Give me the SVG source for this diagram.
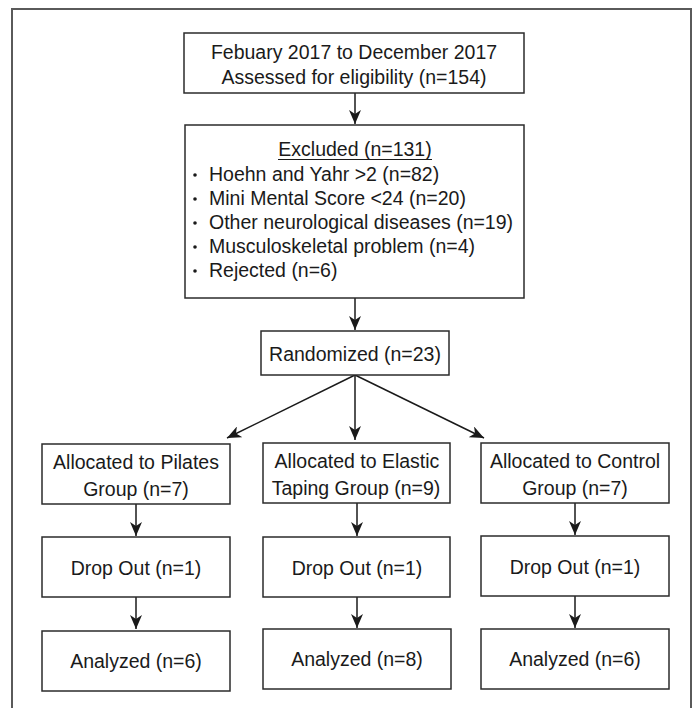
<svg xmlns="http://www.w3.org/2000/svg" width="696" height="708" viewBox="0 0 696 708">
<style>
.box{fill:#fff;stroke:#2b2b2b;stroke-width:1.5}
.t{font-family:"Liberation Sans",Arial,sans-serif;font-size:19.5px;fill:#1a1a1a}
.c{text-anchor:middle}
.edge{stroke:#1a1a1a;stroke-width:1.5;fill:none;marker-end:url(#ah)}
.frame{fill:none;stroke:#5a5a5a;stroke-width:2}
</style>
<defs>
<marker id="ah" viewBox="0 0 14 12" refX="14" refY="6" markerWidth="14" markerHeight="12" markerUnits="userSpaceOnUse" orient="auto">
<path d="M0,0 L14,6 L0,12 L4,6 Z" fill="#1a1a1a"/>
</marker>
</defs>
<rect x="0" y="0" width="696" height="708" fill="#fff"/>
<path class="frame" d="M12,712 V9 H691 V712"/>

<g id="connectors">
<line class="edge" x1="355" y1="93" x2="355" y2="124"/>
<line class="edge" x1="355" y1="298" x2="355" y2="330"/>
<line class="edge" x1="355" y1="375" x2="227" y2="438"/>
<line class="edge" x1="355" y1="375" x2="355" y2="440"/>
<line class="edge" x1="355" y1="375" x2="484" y2="438"/>
<line class="edge" x1="136" y1="504" x2="136" y2="536"/>
<line class="edge" x1="357" y1="503" x2="357" y2="536"/>
<line class="edge" x1="575" y1="503" x2="575" y2="535"/>
<line class="edge" x1="136" y1="597" x2="136" y2="629"/>
<line class="edge" x1="357" y1="597" x2="357" y2="628"/>
<line class="edge" x1="575" y1="596" x2="575" y2="628"/>
</g>

<g id="assessed">
<rect class="box" x="184" y="33" width="340" height="60"/>
<text class="t c" x="354" y="59">Febuary 2017 to December 2017</text>
<text class="t c" x="354" y="84">Assessed for eligibility (n=154)</text>
</g>

<g id="excluded">
<rect class="box" x="185" y="125" width="339" height="173"/>
<text class="t c" x="355" y="156">Excluded (n=131)</text>
<line x1="278" y1="159.5" x2="432" y2="159.5" stroke="#1a1a1a" stroke-width="1.2"/>
<g fill="#1a1a1a">
<circle cx="195" cy="175" r="1.8"/>
<circle cx="195" cy="199" r="1.8"/>
<circle cx="195" cy="223" r="1.8"/>
<circle cx="195" cy="247" r="1.8"/>
<circle cx="195" cy="271" r="1.8"/>
</g>
<text class="t" x="209" y="181">Hoehn and Yahr &gt;2 (n=82)</text>
<text class="t" x="209" y="205">Mini Mental Score &lt;24 (n=20)</text>
<text class="t" x="209" y="229">Other neurological diseases (n=19)</text>
<text class="t" x="209" y="253">Musculoskeletal problem (n=4)</text>
<text class="t" x="209" y="277">Rejected (n=6)</text>
</g>

<g id="randomized">
<rect class="box" x="261" y="331" width="188" height="44"/>
<text class="t c" x="355" y="361">Randomized (n=23)</text>
</g>

<g id="alloc-pilates">
<rect class="box" x="42" y="444" width="188" height="60"/>
<text class="t c" x="136" y="469">Allocated to Pilates</text>
<text class="t c" x="136" y="496">Group (n=7)</text>
</g>
<g id="alloc-taping">
<rect class="box" x="263" y="443" width="187" height="60"/>
<text class="t c" x="357" y="468">Allocated to Elastic</text>
<text class="t c" x="356" y="495">Taping Group (n=9)</text>
</g>
<g id="alloc-control">
<rect class="box" x="481" y="443" width="188" height="60"/>
<text class="t c" x="575" y="468">Allocated to Control</text>
<text class="t c" x="575" y="495">Group (n=7)</text>
</g>

<g id="dropout-pilates">
<rect class="box" x="42" y="537" width="188" height="60"/>
<text class="t c" x="136" y="575">Drop Out (n=1)</text>
</g>
<g id="dropout-taping">
<rect class="box" x="263" y="537" width="187" height="60"/>
<text class="t c" x="357" y="575">Drop Out (n=1)</text>
</g>
<g id="dropout-control">
<rect class="box" x="481" y="536" width="188" height="60"/>
<text class="t c" x="575" y="574">Drop Out (n=1)</text>
</g>

<g id="analyzed-pilates">
<rect class="box" x="42" y="631" width="188" height="60"/>
<text class="t c" x="136" y="668">Analyzed (n=6)</text>
</g>
<g id="analyzed-taping">
<rect class="box" x="263" y="629" width="188" height="60"/>
<text class="t c" x="357" y="666">Analyzed (n=8)</text>
</g>
<g id="analyzed-control">
<rect class="box" x="481" y="629" width="188" height="60"/>
<text class="t c" x="575" y="666">Analyzed (n=6)</text>
</g>
</svg>
